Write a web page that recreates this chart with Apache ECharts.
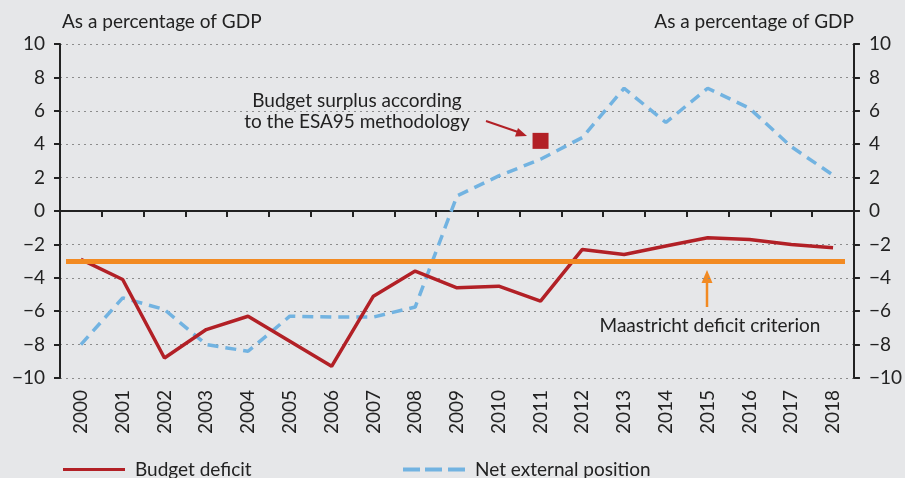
<!DOCTYPE html>
<html>
<head>
<meta charset="utf-8">
<script src="https://cdn.jsdelivr.net/npm/echarts@6/dist/echarts.min.js"></script>
<style>
  html, body { margin: 0; padding: 0; background: #e6e7e9; }
  #chart { width: 905px; height: 478px; }
</style>
</head>
<body>
<div id="chart"></div>
<script>
var years = ['2000', '2001', '2002', '2003', '2004', '2005', '2006', '2007', '2008', '2009',
             '2010', '2011', '2012', '2013', '2014', '2015', '2016', '2017', '2018'];
var budgetDeficit = [-2.9, -4.1, -8.8, -7.1, -6.3, -7.8, -9.3, -5.1, -3.6, -4.6,
                     -4.5, -5.4, -2.3, -2.6, -2.1, -1.6, -1.7, -2.0, -2.2];
var netExternal = [-8.0, -5.2, -5.9, -8.0, -8.4, -6.3, -6.35, -6.35, -5.75, 0.9,
                   2.1, 3.1, 4.4, 7.35, 5.3, 7.35, 6.15, 3.85, 2.15];
var esa95Surplus = [['2011', 4.2]];
var maastricht = -3;

var font = 'Lato';
var txt = '#222';

function minus(v) {
    return v < 0 ? '\u2212' + Math.abs(v) : String(v);
}

var yAxisBase = {
    type: 'value', min: -10, max: 10, interval: 2,
    nameLocation: 'end', nameGap: 13,
    nameTextStyle: { color: txt, fontFamily: font, fontSize: 19 },
    axisLine: { show: true, lineStyle: { color: '#222', width: 2 } },
    axisTick: { show: true, length: 6, lineStyle: { color: '#222', width: 2 } },
    axisLabel: { color: txt, fontFamily: font, fontSize: 19, margin: 15, formatter: minus }
};

var legendText = { color: txt, fontFamily: font, fontSize: 19, padding: [0, 0, 0, 5] };

var option = {
    backgroundColor: '#e6e7e9',
    animation: false,
    grid: { left: 60, right: 51, top: 44, bottom: 100 },
    legend: [
        {
            left: 58, top: 455, itemWidth: 62, itemHeight: 3,
            data: [{ name: 'Budget deficit', icon: 'rect' }],
            textStyle: legendText
        },
        {
            left: 398, top: 455, itemWidth: 62, itemHeight: 4,
            data: [{ name: 'Net external position',
                     icon: 'path://M0,0h17v4h-17z M22,0h17v4h-17z M45,0h17v4h-17z' }],
            textStyle: legendText
        }
    ],
    xAxis: [
        {
            type: 'category', data: years, position: 'bottom',
            axisLine: { show: false, onZero: false },
            axisTick: { show: false },
            axisLabel: { rotate: 90, margin: 12, color: txt, fontFamily: font, fontSize: 19, interval: 0 }
        },
        {
            type: 'category', data: years, position: 'bottom',
            axisLine: { show: true, onZero: true, lineStyle: { color: '#222', width: 2 } },
            axisTick: { show: true, length: 6, lineStyle: { color: '#222', width: 2 } },
            axisLabel: { show: false }
        }
    ],
    yAxis: [
        Object.assign({}, yAxisBase, {
            position: 'left', name: 'As a percentage of GDP',
            nameTextStyle: Object.assign({}, yAxisBase.nameTextStyle, { align: 'left', padding: [0, 0, 0, 2] }),
            splitLine: { show: true, lineStyle: { color: '#8c8c8c', type: [2, 4], width: 1 } }
        }),
        Object.assign({}, yAxisBase, {
            position: 'right', name: 'As a percentage of GDP',
            nameTextStyle: Object.assign({}, yAxisBase.nameTextStyle, { align: 'right' }),
            splitLine: { show: false }
        })
    ],
    series: [
        {
            name: 'Maastricht', type: 'line', data: [], z: 1, silent: true,
            markLine: {
                symbol: 'none', silent: true, label: { show: false },
                lineStyle: { color: '#f28a22', width: 5, type: 'solid' },
                data: [[{ x: 66, yAxis: maastricht }, { x: 845, yAxis: maastricht }]]
            }
        },
        {
            name: 'Net external position', type: 'line', data: netExternal, z: 3,
            symbol: 'none', color: '#72b3e1',
            lineStyle: { color: '#72b3e1', width: 3.5, type: [11, 7] }
        },
        {
            name: 'Budget deficit', type: 'line', data: budgetDeficit, z: 4,
            symbol: 'none', color: '#b22026',
            lineStyle: { color: '#b22026', width: 3.5 }
        },
        {
            name: 'ESA95 surplus', type: 'scatter', data: esa95Surplus, z: 5,
            symbol: 'rect', symbolSize: 16,
            itemStyle: { color: '#b22026', opacity: 1 }
        }
    ],
    graphic: [
        {
            type: 'text', x: 357, y: 90, style: {
                text: 'Budget surplus according\nto the ESA95 methodology',
                fill: txt, font: '19px Lato', align: 'center', verticalAlign: 'top', lineHeight: 21
            }
        },
        {
            type: 'line', shape: { x1: 486, y1: 121, x2: 518, y2: 132 },
            style: { stroke: '#b22026', lineWidth: 2 }
        },
        {
            type: 'polygon', shape: { points: [[527, 136], [515, 136.5], [518, 128]] },
            style: { fill: '#b22026' }
        },
        {
            type: 'line', shape: { x1: 707, y1: 307, x2: 707, y2: 280 },
            style: { stroke: '#f28a22', lineWidth: 2.5 }
        },
        {
            type: 'polygon', shape: { points: [[707, 270], [701.5, 283], [712.5, 283]] },
            style: { fill: '#f28a22' }
        },
        {
            type: 'text', x: 710, y: 326, style: {
                text: 'Maastricht deficit criterion', fill: txt, font: '19px Lato',
                align: 'center', verticalAlign: 'middle'
            }
        }
    ]
};

var chart = echarts.init(document.getElementById('chart'));
chart.setOption(option);
window.onresize = chart.resize;
</script>
</body>
</html>
